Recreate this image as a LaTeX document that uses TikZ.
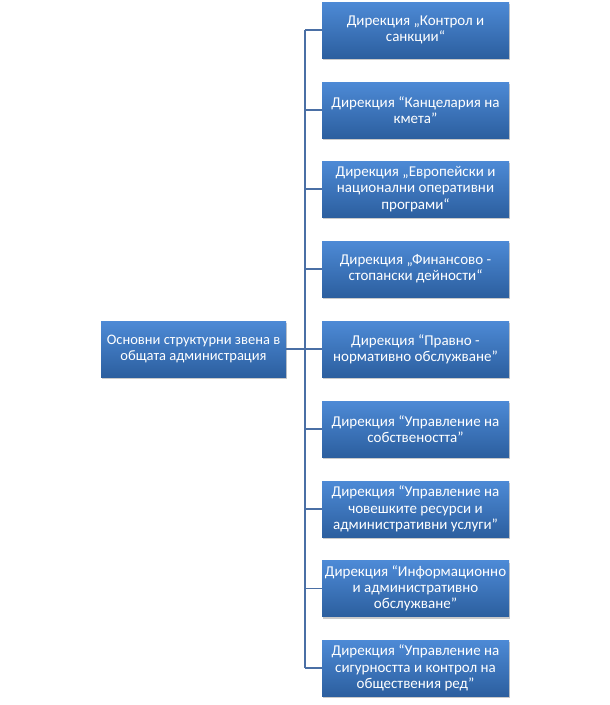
\documentclass[tikz,border=0pt]{standalone}
\usepackage{fontspec}
\setmainfont{Carlito}
\usetikzlibrary{shadows}
\definecolor{boxtop}{HTML}{4D8AD6}
\definecolor{boxbot}{HTML}{2C5F9F}
\definecolor{linec}{HTML}{4A6FA5}
\tikzset{
  unitbox/.style={rectangle, minimum width=187pt, minimum height=56pt, inner sep=0pt,
    top color=boxtop, bottom color=boxbot, draw=none, text=white, align=center,
    font=\fontsize{15pt}{16.2pt}\selectfont,
    drop shadow={shadow xshift=1pt, shadow yshift=-2pt, opacity=0.35, fill=black!60}},
  conn/.style={draw=linec, line width=1.4pt}
}
\begin{document}
\begin{tikzpicture}[x=1pt,y=-1pt]
\useasboundingbox (0,0) rectangle (610,705);
\node[unitbox, minimum width=185pt, font=\fontsize{14.5pt}{16.2pt}\selectfont] (L) at (193.5,349) {Основни структурни звена в\\общата администрация};
\node[unitbox] (B1) at (415.5,30) {Дирекция „Контрол и\\санкции“};
\node[unitbox] (B2) at (415.5,110) {Дирекция “Канцелария на\\кмета”};
\node[unitbox] (B3) at (415.5,189) {Дирекция „Европейски и\\национални оперативни\\програми“};
\node[unitbox] (B4) at (415.5,269) {Дирекция „Финансово -\\стопански дейности“};
\node[unitbox] (B5) at (415.5,349) {Дирекция “Правно -\\нормативно обслужване”};
\node[unitbox] (B6) at (415.5,429) {Дирекция “Управление на\\собствеността”};
\node[unitbox] (B7) at (415.5,509) {Дирекция “Управление на\\човешките ресурси и\\административни услуги”};
\node[unitbox] (B8) at (415.5,588.5) {Дирекция “Информационно\\и административно\\обслужване”};
\node[unitbox] (B9) at (415.5,668) {Дирекция “Управление на\\сигурността и контрол на\\обществения ред”};
\coordinate (J) at (305,349);
\draw[conn] (L.east) -- (J);
\draw[conn] (J |- B1.west) -- (J |- B9.west);
\foreach \b in {B1,B2,B3,B4,B5,B6,B7,B8,B9}{
  \draw[conn] (J |- \b.west) -- (\b.west);
}
\end{tikzpicture}
\end{document}
